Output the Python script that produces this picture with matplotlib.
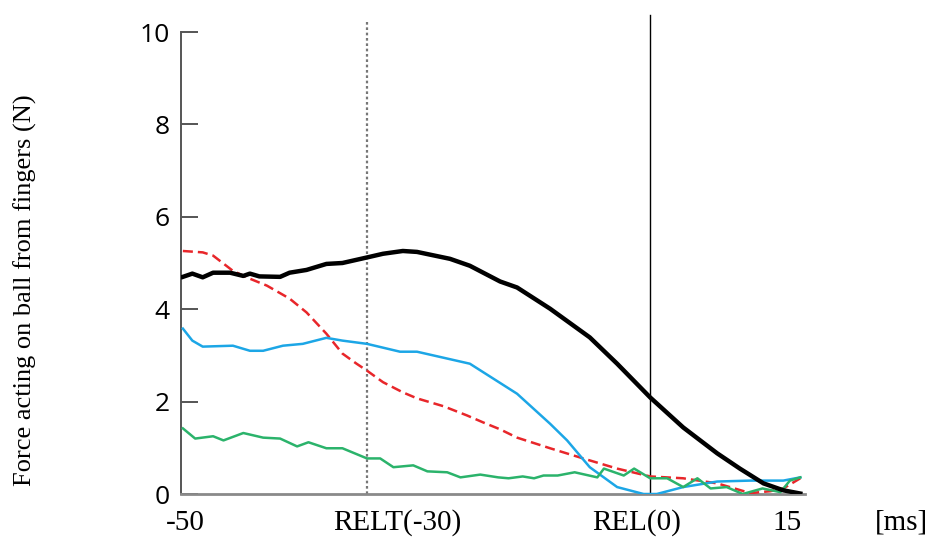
import matplotlib
matplotlib.use("Agg")
import matplotlib.pyplot as plt
import matplotlib.transforms as mtransforms

# time axis in ms, force in N
black_x = [-49.5, -48.5, -47.4, -46.3, -44.5, -43.1, -42.4, -41.4, -39.2, -38.2, -36.4, -34.3,
           -32.6, -30.0, -28.3, -26.2, -24.7, -21.2, -19.1, -15.9, -14.1, -10.6, -6.4, -3.5,
           0.0, 3.5, 7.1, 9.5, 12.0, 14.1, 15.9]
black_y = [4.70, 4.77, 4.69, 4.79, 4.79, 4.72, 4.77, 4.71, 4.70, 4.79, 4.85, 4.98,
           5.00, 5.12, 5.20, 5.26, 5.24, 5.09, 4.94, 4.60, 4.47, 4.01, 3.39, 2.82,
           2.09, 1.44, 0.88, 0.55, 0.23, 0.08, 0.01]

red_x = [-49.5, -47.4, -46.3, -44.2, -42.4, -40.6, -38.2, -36.4, -34.3, -32.6, -31.1, -30.0,
         -28.3, -26.2, -24.7, -21.9, -19.4, -17.7, -15.9, -14.1, -10.6, -7.1, -3.5, 0.0,
         3.5, 7.1, 10.6, 12.7, 14.1, 15.9]
red_y = [5.26, 5.23, 5.16, 4.83, 4.66, 4.51, 4.23, 3.93, 3.47, 3.04, 2.82, 2.67,
         2.42, 2.20, 2.07, 1.90, 1.70, 1.55, 1.40, 1.22, 0.99, 0.77, 0.55, 0.38,
         0.34, 0.23, 0.02, 0.06, 0.12, 0.34]

blue_x = [-49.5, -48.5, -47.4, -44.2, -42.4, -41.0, -38.9, -36.8, -34.3, -32.6, -30.0, -26.5,
          -24.7, -21.9, -19.1, -14.1, -10.6, -8.8, -6.4, -3.5, -0.7, 0.7, 3.5, 7.1,
          10.6, 14.1, 15.9]
blue_y = [3.58, 3.32, 3.19, 3.21, 3.10, 3.10, 3.21, 3.25, 3.38, 3.32, 3.25, 3.08,
          3.08, 2.95, 2.82, 2.17, 1.52, 1.16, 0.58, 0.15, 0.0, 0.0, 0.15, 0.27,
          0.29, 0.29, 0.36]

green_x = [-49.5, -48.2, -46.3, -45.2, -43.1, -41.0, -39.2, -37.4, -36.2, -34.3, -32.6, -30.0,
           -28.6, -27.2, -25.1, -23.6, -21.5, -20.1, -18.0, -16.1, -15.0, -13.5, -12.3, -11.3,
           -9.8, -8.0, -5.6, -4.9, -2.8, -1.7, 0.0, 1.8, 3.5, 5.0, 6.4, 8.1, 9.8, 11.9,
           13.8, 14.8, 15.9]
green_y = [1.42, 1.20, 1.25, 1.16, 1.32, 1.22, 1.20, 1.03, 1.12, 0.99, 0.99, 0.77,
           0.77, 0.58, 0.62, 0.49, 0.47, 0.36, 0.42, 0.36, 0.34, 0.38, 0.34, 0.40,
           0.40, 0.47, 0.36, 0.55, 0.40, 0.55, 0.34, 0.34, 0.15, 0.34, 0.12, 0.15, 0.0, 0.12,
           0.04, 0.29, 0.36]

ytick_vals = [0, 2, 4, 6, 8, 10]
xlabel_pos = [-49.2, -26.8, -1.4, 14.5]
xlabel_txt = ["-50", "RELT(-30)", "REL(0)", "15"]

W, H = 931, 543
fig = plt.figure(figsize=(W / 100, H / 100), dpi=100)
ax = fig.add_axes([181 / W, 49 / H, 624 / W, 462 / H])

ax.plot(red_x, red_y, color="#e8262a", lw=1.8, ls=(0, (4, 2)), zorder=3)
ax.plot(blue_x, blue_y, color="#1ca6e6", lw=1.8, zorder=3)
ax.plot(green_x, green_y, color="#2bb36b", lw=1.8, zorder=3)
ax.plot(black_x, black_y, color="black", lw=3.2, zorder=4)

ax.plot([-30, -30], [0, 10.27], color="#777777", lw=1.6, ls=(0, (1.2, 1.2)), clip_on=False, zorder=2)
ax.plot([0, 0], [0, 10.36], color="black", lw=1.0, clip_on=False, zorder=2)

ax.set_xlim(-49.7, 16.4)
ax.set_ylim(0, 10)

for s in ["top", "right"]:
    ax.spines[s].set_visible(False)
ax.spines["left"].set_color("#555555")
ax.spines["left"].set_linewidth(1.4)
ax.spines["bottom"].set_color("#8a8a8a")
ax.spines["bottom"].set_linewidth(2.0)

ax.set_yticks(ytick_vals)
ax.set_yticklabels([str(v) for v in ytick_vals], fontfamily="Open Sans", fontsize=19)
ax.tick_params(axis="y", direction="in", length=12, width=1.4, color="#555555", pad=8)
ax.set_xticks([])

trans = mtransforms.blended_transform_factory(ax.transData, ax.transAxes)
for xp, t in zip(xlabel_pos, xlabel_txt):
    ax.text(xp, -0.062, t, transform=trans, ha="center", va="center",
            fontfamily="Liberation Serif", fontsize=21)

fig.text(901 / W, 1 - 523 / H, "[ms]", ha="center", va="center",
         fontfamily="Liberation Serif", fontsize=21)
fig.text(25 / W, 1 - 290 / H, "Force acting on ball from fingers (N)", rotation=90,
         ha="center", va="center", fontfamily="Liberation Serif", fontsize=19)

fig.savefig("out.png", dpi=100)
